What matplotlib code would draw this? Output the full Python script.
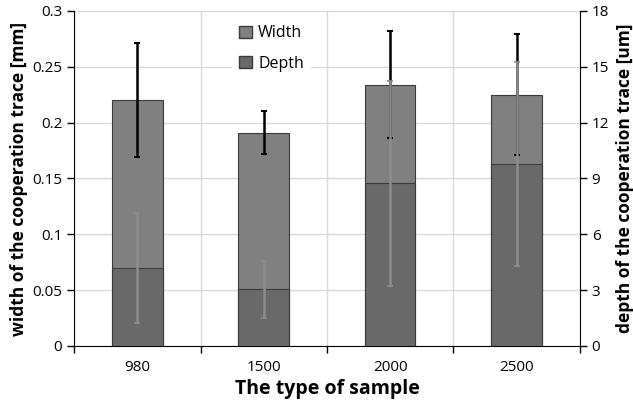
import matplotlib.pyplot as plt
import numpy as np
from matplotlib.patches import Patch

# data
samples = ['980', '1500', '2000', '2500']
width_mm = [0.220, 0.191, 0.234, 0.225]
width_err = [0.051, 0.019, 0.048, 0.054]
depth_um = [4.17, 3.05, 8.74, 9.80]
depth_err = [2.95, 1.54, 5.50, 5.48]

plt.rcParams['font.family'] = ['Open Sans', 'DejaVu Sans']

fig = plt.figure(figsize=(6.33, 4.04), dpi=100)
ax = fig.add_axes([0.117, 0.1436, 0.799, 0.8292])
ax2 = ax.twinx()

x = np.arange(len(samples))
bw = 0.4
grid_c = '#d9d9d9'

# width bars (left axis)
ax.bar(x, width_mm, bw, color='#808080', edgecolor='#3a3a3a', linewidth=0.8, zorder=2)
ax.errorbar(x, width_mm, yerr=width_err, fmt='none', ecolor='black',
            elinewidth=1.8, capsize=2, capthick=1.5, zorder=3)

# depth bars (right axis)
ax2.bar(x, depth_um, bw, color='#696969', edgecolor='#3a3a3a', linewidth=0.8, zorder=2)
ax2.errorbar(x, depth_um, yerr=depth_err, fmt='none', ecolor='#8c8c8c',
             elinewidth=1.8, capsize=2, capthick=1.2, zorder=3)

ax.set_xlim(-0.5, 3.5)
ax.set_ylim(0, 0.3)
ax2.set_ylim(0, 18)
ax.set_yticks(np.arange(0, 0.301, 0.05))
ax.set_yticklabels(['0', '0.05', '0.1', '0.15', '0.2', '0.25', '0.3'])
ax2.set_yticks(np.arange(0, 18.1, 3))

ax.set_xticks(x)
ax.set_xticklabels(samples)
ax.set_xticks(np.arange(-0.5, 3.6, 1), minor=True)
ax.tick_params(axis='x', which='major', length=0, pad=10, labelsize=11)
ax.tick_params(axis='x', which='minor', length=5, direction='out', width=1)
ax.tick_params(axis='y', length=5, width=1, labelsize=11)
ax2.tick_params(axis='y', length=5, width=1, labelsize=11)

ax.set_axisbelow(True)
ax.grid(axis='y', color=grid_c, linewidth=1)
ax.grid(axis='x', which='minor', color=grid_c, linewidth=1)

for a in (ax, ax2):
    a.spines['top'].set_visible(False)
ax.spines['right'].set_visible(False)
ax2.spines['left'].set_visible(False)
ax2.spines['bottom'].set_visible(False)

ax.set_xlabel('The type of sample', fontsize=14, fontweight='bold', labelpad=3)
ax.set_ylabel('width of the cooperation trace [mm]', fontsize=12.5, fontweight='bold', labelpad=3)
ax2.set_ylabel('depth of the cooperation trace [um]', fontsize=12.5, fontweight='bold', labelpad=5)

handles = [Patch(facecolor='#808080', edgecolor='#3a3a3a'),
           Patch(facecolor='#696969', edgecolor='#3a3a3a')]
leg = ax2.legend(handles, ['Width', 'Depth'], loc='upper center',
                 bbox_to_anchor=(0.39, 1.0), frameon=True, fontsize=11.5,
                 handlelength=0.8, handleheight=0.8, handletextpad=0.4,
                 labelspacing=0.9, borderpad=0.4)
leg.get_frame().set_edgecolor('white')
leg.get_frame().set_facecolor('white')
leg.get_frame().set_alpha(1)

fig.savefig('out.png', dpi=100)
